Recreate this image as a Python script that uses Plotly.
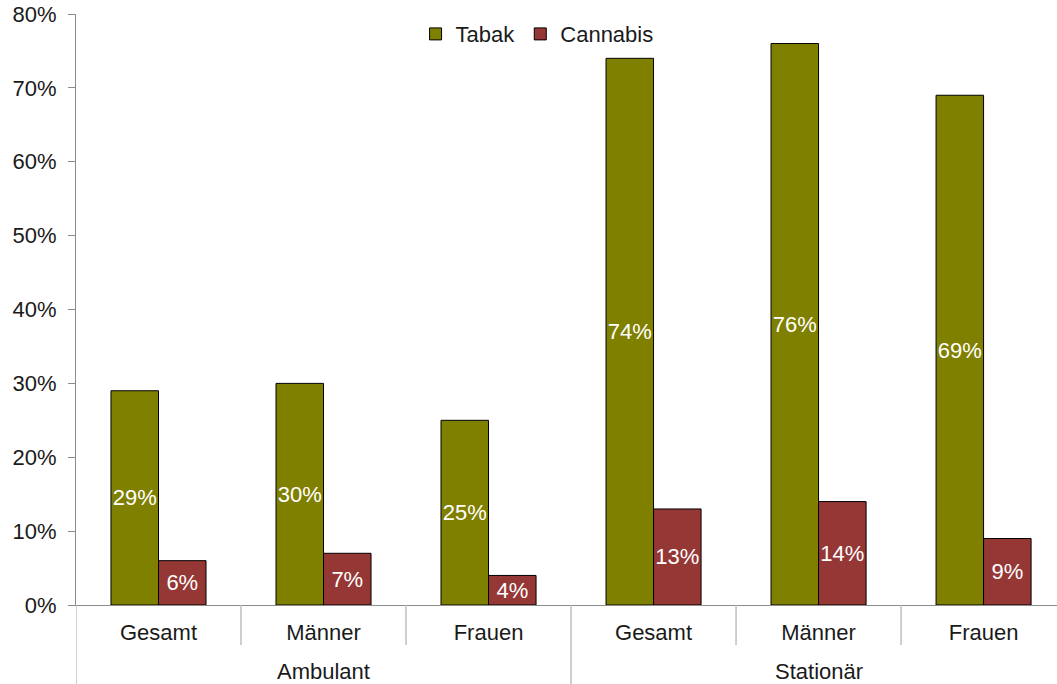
import plotly.graph_objects as go

settings = ["Ambulant", "Stationär"]
groups = ["Gesamt", "Männer", "Frauen", "Gesamt", "Männer", "Frauen"]
tabak = [29, 30, 25, 74, 76, 69]
cannabis = [6, 7, 4, 13, 14, 9]

font = "Liberation Sans, Arial, sans-serif"
pos = list(range(len(groups)))
per_setting = len(groups) // len(settings)

fig = go.Figure()
fig.add_trace(go.Bar(x=pos, y=tabak, name="Tabak", text=tabak,
                     marker=dict(color="#808000", line=dict(color="#000000", width=1))))
fig.add_trace(go.Bar(x=pos, y=cannabis, name="Cannabis", text=cannabis,
                     marker=dict(color="#953735", line=dict(color="#000000", width=1))))
fig.update_traces(texttemplate="%{text}%", textposition="inside", insidetextanchor="middle",
                  textangle=0, constraintext="none", hoverinfo="skip",
                  textfont=dict(color="white", size=22, family=font))

# Trennlinien unter der Achse (kurz zwischen Gruppen, lang zwischen Settings)
plot_h = 591
for i in range(len(groups) + 1):
    long = i % per_setting == 0
    fig.add_shape(type="line", xref="x", yref="paper", x0=i - 0.5, x1=i - 0.5,
                  y0=0, y1=-(80 if long else 40) / plot_h,
                  line=dict(color="#bfbfbf", width=1.5))

for k, s in enumerate(settings):
    fig.add_annotation(x=k * per_setting + (per_setting - 1) / 2, xref="x", y=0, yref="paper",
                       text=s, showarrow=False, yanchor="middle", yshift=-66,
                       font=dict(size=22))

fig.update_layout(
    width=1057, height=684,
    margin=dict(l=76, r=0, t=14, b=79, autoexpand=False),
    paper_bgcolor="white", plot_bgcolor="white",
    barmode="group", bargap=0.424, bargroupgap=0,
    font=dict(family=font, size=22, color="#1a1a1a"),
    showlegend=True,
    legend=dict(orientation="h", x=0.47, xanchor="center", y=0.966, yanchor="middle",
                font=dict(size=22), bgcolor="rgba(0,0,0,0)", itemwidth=30),
    yaxis=dict(range=[0, 80], dtick=10, ticksuffix="%", showgrid=False, zeroline=False,
               showline=True, linecolor="#8c8c8c", linewidth=1, automargin=False,
               ticks="outside", ticklen=7, tickcolor="#8c8c8c",
               ticklabelstandoff=7, ticklabeloverflow="allow"),
    xaxis=dict(range=[-0.5, 5.445], showgrid=False, zeroline=False, automargin=False,
               tickvals=pos, ticktext=groups, ticklabelstandoff=8,
               showline=True, linecolor="#8c8c8c", linewidth=1, ticks=""),
)

fig.write_html("out.html", config={"displayModeBar": False},
               post_script="document.body.style.margin = '0';")
